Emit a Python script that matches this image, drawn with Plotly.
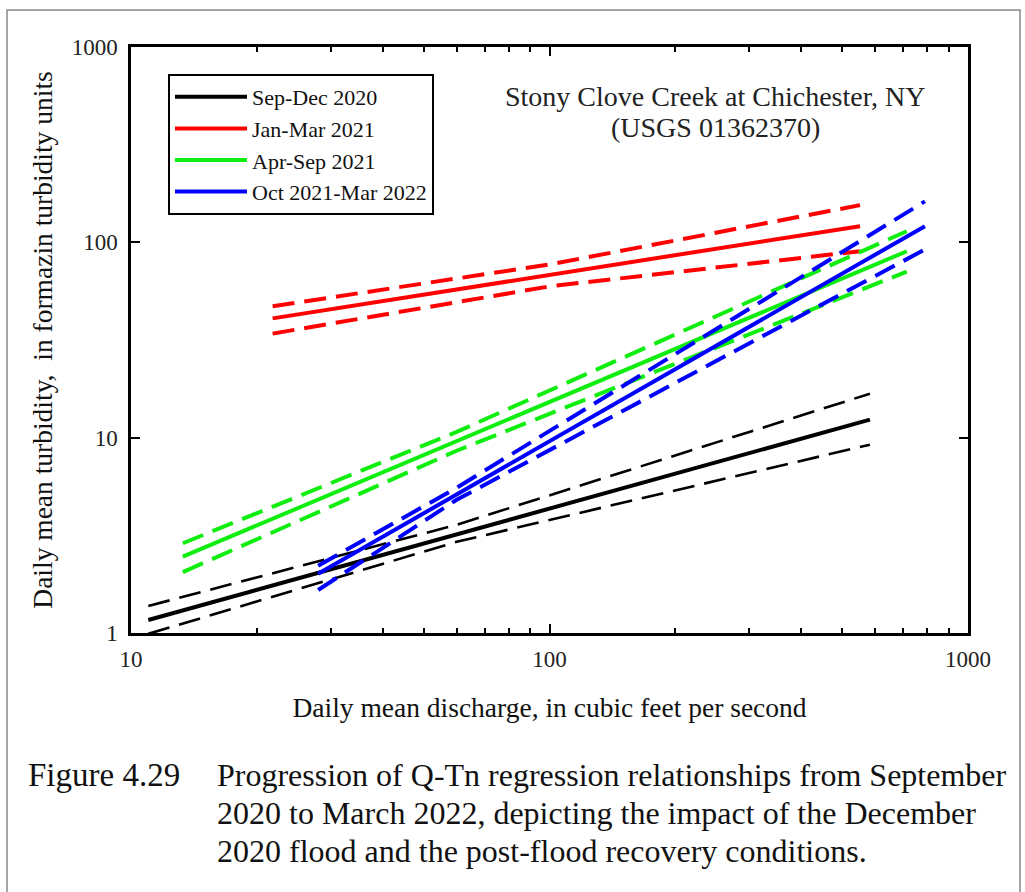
import plotly.graph_objects as go

# Regression periods
periods = ["Sep-Dec 2020", "Jan-Mar 2021", "Apr-Sep 2021", "Oct 2021-Mar 2022"]
colors = ["#000000", "#ff0000", "#10ee10", "#0000ff"]

# Fitted Q-Tn lines (discharge, turbidity) at the ends of each period's range
fit_q = [
    [11.0, 583.0],
    [21.8, 552.0],
    [13.3, 714.0],
    [28.0, 789.0],
]
fit_t = [
    [1.166, 12.37],
    [40.8, 121.0],
    [2.46, 90.0],
    [2.01, 121.0],
]

# Confidence limits: discharge at start / middle / end
band_q = [
    [11.0, 60.0, 583.0],
    [21.8, 100.0, 552.0],
    [13.3, 60.0, 714.0],
    [28.0, 60.0, 789.0],
]
band_upper = [
    [1.375, 3.58, 16.8],
    [47.1, 77.0, 155.0],
    [2.88, 10.7, 114.0],
    [2.21, 5.54, 162.0],
]
band_lower = [
    [0.99, 2.93, 9.21],
    [34.1, 59.5, 90.0],
    [2.05, 8.57, 70.8],
    [1.66, 4.81, 92.0],
]

# Axis ticks
x_tickvals = [10, 100, 1000]
x_ticktext = ["10", "100", "1000"]
y_tickvals = [1, 10, 100, 1000]
y_ticktext = ["1", "10", "100", "1000"]

title_lines = ["Stony Clove Creek at Chichester, NY", "(USGS 01362370)"]
caption_label = "Figure 4.29"
caption_lines = [
    "Progression of Q-Tn regression relationships from September",
    "2020 to March 2022, depicting the impact of the December",
    "2020 flood and the post-flood recovery conditions.",
]

SERIF = "Liberation Serif, Times New Roman, serif"

fig = go.Figure()

for i, name in enumerate(periods):
    black = colors[i] == "#000000"
    dash_w = 2.6 if black else 4
    for lim in (band_upper[i], band_lower[i]):
        fig.add_trace(go.Scatter(
            x=band_q[i], y=lim, mode="lines",
            line=dict(color=colors[i], width=dash_w, dash="22px,10px"),
            showlegend=False, hoverinfo="skip", legendgroup=name,
        ))
    fig.add_trace(go.Scatter(
        x=fit_q[i], y=fit_t[i], mode="lines", name=name,
        line=dict(color=colors[i], width=4),
        legendgroup=name,
    ))

W, H = 1025, 892
L, R, T, B = 131, 57, 47, 259
pw, ph = W - L - R, H - T - B


def px(xp):
    return (xp - L) / pw


def py(yp):
    return (H - B - yp) / ph


axis_common = dict(
    type="log", showgrid=False, zeroline=False,
    showline=True, linecolor="black", linewidth=2.5, mirror="allticks",
    ticks="inside", tickcolor="black", tickwidth=2,
    tickfont=dict(family=SERIF, size=23, color="#222"),
)

fig.update_xaxes(
    **axis_common, range=[1, 3], tickvals=x_tickvals, ticktext=x_ticktext,
    ticklen=9, ticklabelstandoff=4,
    minor=dict(ticks="inside", ticklen=5, tickwidth=1.5, tickcolor="black",
               tickvals=[v * d for d in (10, 100) for v in range(2, 10)]),
    title=dict(text="Daily mean discharge, in cubic feet per second",
               font=dict(family=SERIF, size=27.5, color="#111"), standoff=27),
)
fig.update_yaxes(
    **axis_common, range=[0, 3], tickvals=y_tickvals, ticktext=y_ticktext,
    ticklen=9, ticklabelstandoff=6,
    title=dict(text="Daily mean turbidity,  in formazin turbidity units",
               font=dict(family=SERIF, size=27.5, color="#111"), standoff=12),
)

annotations = []
for k, line in enumerate(title_lines):
    annotations.append(dict(
        text=line, xref="paper", yref="paper", x=px(715), y=py(96 + 31 * k),
        xanchor="center", yanchor="middle", showarrow=False,
        font=dict(family=SERIF, size=28, color="#222"),
    ))
annotations.append(dict(
    text=caption_label, xref="paper", yref="paper", x=px(26), y=py(775),
    xanchor="left", yanchor="middle", showarrow=False,
    font=dict(family=SERIF, size=33, color="#111"),
))
for k, line in enumerate(caption_lines):
    annotations.append(dict(
        text=line, xref="paper", yref="paper", x=px(215), y=py(775 + 38 * k),
        xanchor="left", yanchor="middle", showarrow=False,
        font=dict(family=SERIF, size=32, color="#111"),
    ))

fig.update_layout(
    width=W, height=H,
    margin=dict(l=L, r=R, t=T, b=B, autoexpand=False),
    paper_bgcolor="white", plot_bgcolor="white",
    font=dict(family=SERIF, color="#111"),
    showlegend=True,
    legend=dict(
        x=px(168), y=py(74), xanchor="left", yanchor="top",
        bordercolor="black", borderwidth=2, bgcolor="white",
        font=dict(family=SERIF, size=22, color="#111"),
        itemwidth=72, tracegroupgap=0, traceorder="grouped",
    ),
    annotations=annotations,
    shapes=[dict(
        type="rect", xref="paper", yref="paper",
        x0=px(7), x1=px(1020), y0=py(905), y1=py(10),
        line=dict(color="#888", width=1.5), layer="below",
    )],
)

fig.write_html("out.html")
